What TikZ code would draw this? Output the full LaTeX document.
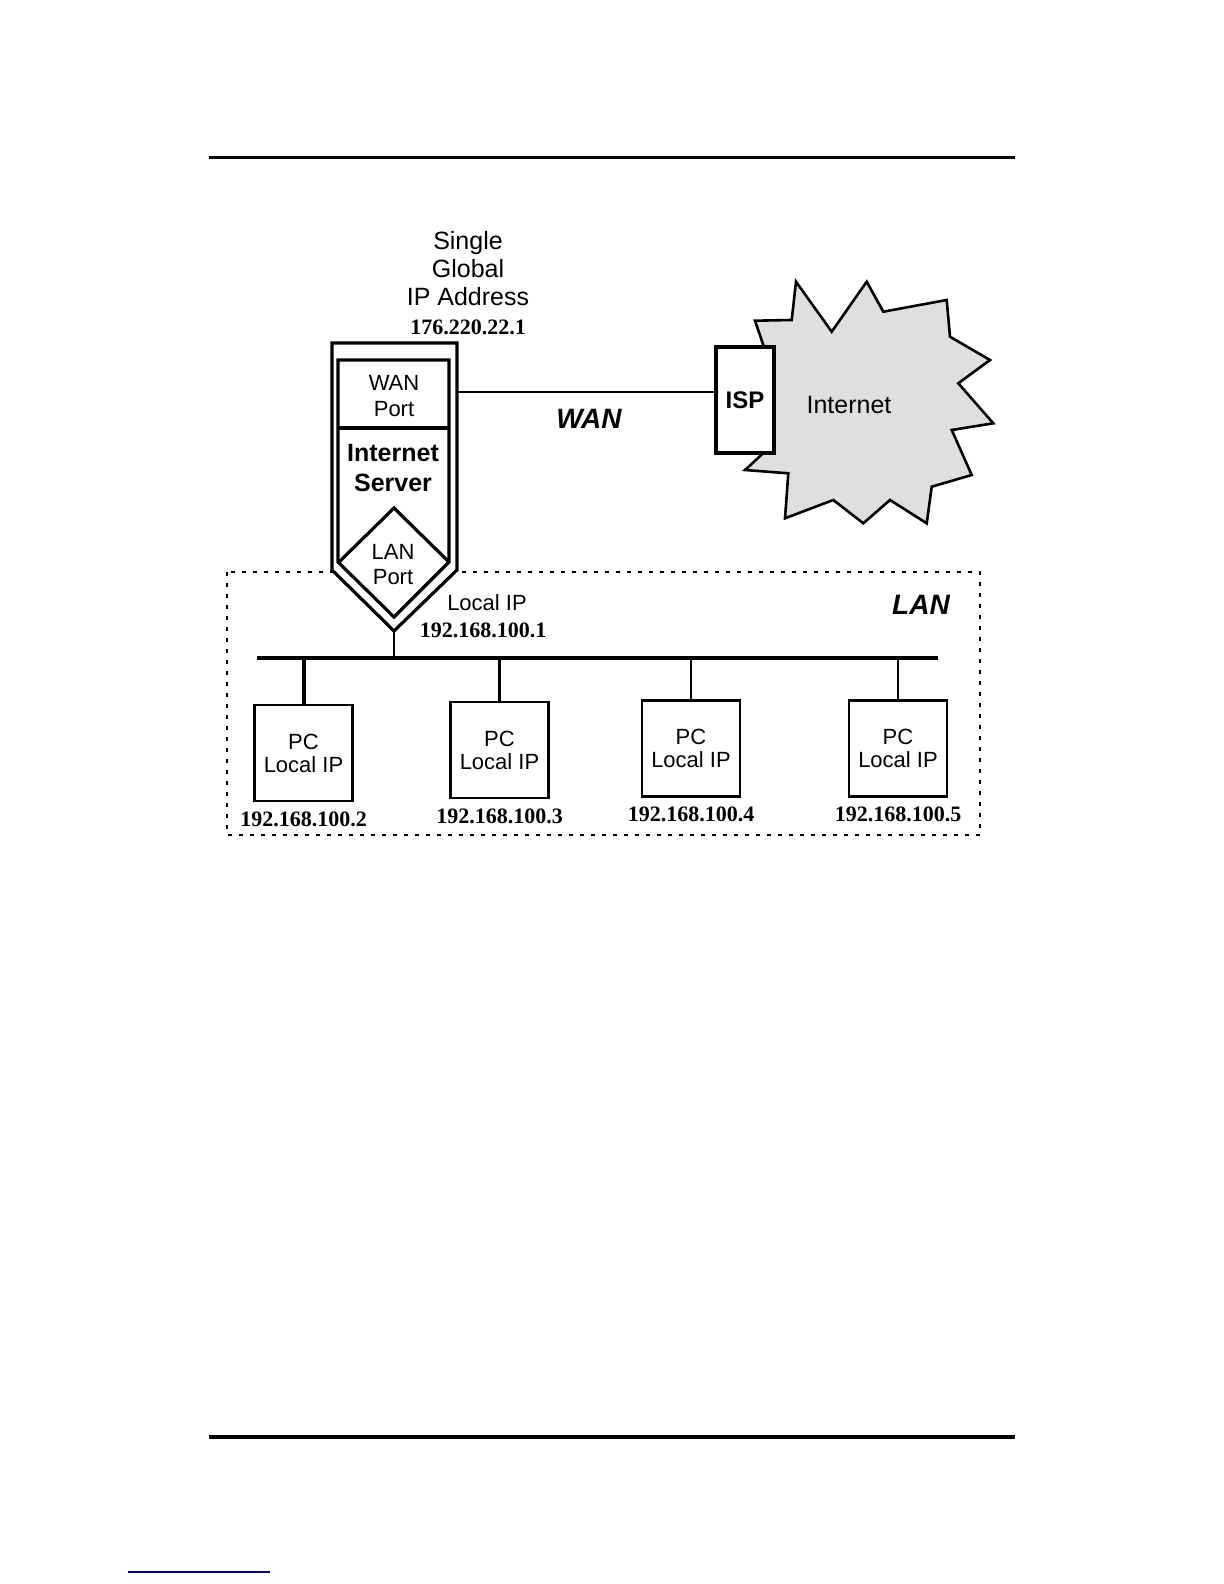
\documentclass[tikz,border=0pt]{standalone}
\usepackage{fontspec}
\setmainfont{Liberation Sans}
\newfontfamily\numfont{Liberation Serif}
\usetikzlibrary{positioning,calc}

\begin{document}
\begin{tikzpicture}[x=0.5pt,y=-0.5pt, line join=miter,
  pc/.style={draw,fill=white,line width=1.3pt,minimum width=49pt,minimum height=48pt,inner sep=0pt,align=center,font=\fontsize{11}{11.5}\selectfont},
  ip/.style={font=\numfont\bfseries\fontsize{11}{12}\selectfont,inner sep=0pt},
  lbl/.style={font=\fontsize{12.5}{14}\selectfont,align=center,inner sep=0pt},
  port/.style={font=\fontsize{11}{13}\selectfont,align=center,inner sep=0pt},
  net/.style={font=\bfseries\itshape\fontsize{14}{16}\selectfont,inner sep=0pt}]
  \useasboundingbox (0,0) rectangle (1224,1584);
  % page rules
  \draw[line width=1.5pt] (209,157) -- (1015,157);
  \draw[line width=2pt] (209,1437) -- (1015,1437);
  \draw[blue!60!black,line width=0.8pt] (128,1572) -- (270,1572);
  % LAN area
  \draw[dash pattern=on 2pt off 3.5pt,line width=1pt] (227,572) rectangle (980,835);
  \node[net](lan) at (921,605){LAN};
  % Internet cloud
  \filldraw[fill=gray!25,line width=1.3pt] (765,350) -- (755,320.7) -- (791.7,320) -- (796,281.7)
    -- (831.7,331.7) -- (866.7,281.7) -- (883.3,311.7) -- (946.7,300) -- (950,336.7)
    -- (990,360) -- (958.3,383.3) -- (993.3,423.3) -- (951.7,430) -- (971.7,475)
    -- (931.7,486.7) -- (926.7,523.3) -- (890,500) -- (863.3,523.3) -- (833.3,500)
    -- (785,518.3) -- (788.3,473.3) -- (745,470) -- (766.7,450) -- cycle;
  \node[lbl](inet) at (849,405){Internet};
  \node[draw,fill=white,line width=1.6pt,minimum width=29pt,minimum height=53pt,inner sep=0pt,
    font=\bfseries\fontsize{12}{14}\selectfont](isp) at (745,400){ISP};
  % server
  \filldraw[fill=white,line width=1.6pt] (332,343) -- (457,343) -- (457,570) -- (394,631) -- (332,570) -- cycle;
  \draw[line width=1.6pt] (338,360) -- (449,360) -- (449,562) -- (394,617) -- (338,562) -- cycle;
  \draw[line width=1.6pt] (338,428) -- (449,428);
  \draw[line width=1.6pt] (339,562) -- (394,508) -- (449,562);
  \coordinate(wanport) at (457,392);
  \coordinate(srvtip) at (394,631);
  \node[port](wp) at (394,396){WAN\\Port};
  \node[lbl,font=\bfseries\fontsize{12.5}{15}\selectfont](srv) at (393,468){Internet\\Server};
  \node[port,font=\fontsize{11}{12.5}\selectfont](lp) at (393,565){LAN\\Port};
  \node[lbl](glob) at (468,269){Single\\Global\\IP Address};
  \node[ip](gip) at (468,327){176.220.22.1};
  \node[port](loc) at (487,603){Local IP};
  \node[ip](lip) at (483,630){192.168.100.1};
  % WAN link
  \draw[line width=1.3pt](wanport)--(wanport-|isp.west);
  \node[net](wan) at (589,419){WAN};
  % LAN bus
  \coordinate(busL) at (257,658); \coordinate(busR) at (938,658);
  \draw[line width=1.6pt](busL)--(busR);
  \draw[line width=1.3pt](srvtip)--(srvtip|-busL);
  \node[pc](pc1) at (303.5,753){PC\\Local IP};
  \node[pc](pc2) at (499.5,750){PC\\Local IP};
  \node[pc](pc3) at (691,748.5){PC\\Local IP};
  \node[pc](pc4) at (898,748.5){PC\\Local IP};
  \draw[line width=2pt](pc1.north)--(pc1.north|-busL);
  \draw[line width=1.3pt](pc2.north)--(pc2.north|-busL);
  \draw[line width=1.3pt](pc3.north)--(pc3.north|-busL);
  \draw[line width=1.3pt](pc4.north)--(pc4.north|-busL);
  \node[ip,below=4.5pt of pc1](ip1){192.168.100.2};
  \node[ip,below=4.5pt of pc2](ip2){192.168.100.3};
  \node[ip,below=4.5pt of pc3](ip3){192.168.100.4};
  \node[ip,below=4.5pt of pc4](ip4){192.168.100.5};
\end{tikzpicture}
\end{document}
